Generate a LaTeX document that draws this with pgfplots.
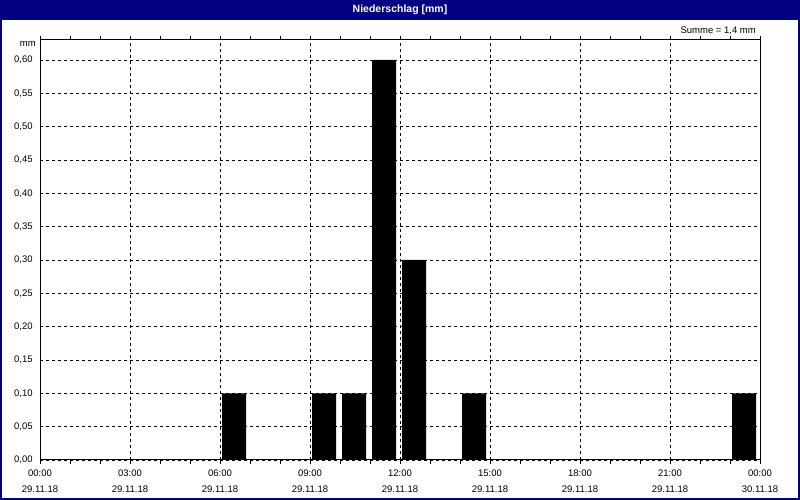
\documentclass[border=0pt]{standalone}
\usepackage{fontspec}
\setmainfont{Liberation Sans}
\usepackage{pgfplots}
\pgfplotsset{compat=1.18}
\definecolor{navy}{HTML}{000080}
\begin{document}
\fontsize{9.5}{16}\selectfont
\begin{tikzpicture}[x=1pt,y=1pt]
% page frame and title bar
\fill[white] (0,0) rectangle (800,500);
\fill[navy] (0,480) rectangle (800,500);
\draw[navy, line width=2pt] (1,1) rectangle (799,499);
\node[text=white, font=\fontsize{10.5}{12}\selectfont\bfseries] at (400,490) {Niederschlag [mm]};
\begin{axis}[
  at={(40pt,40pt)}, anchor=south west,
  scale only axis, width=720pt, height=420pt,
  xmin=0, xmax=24, ymin=0, ymax=0.63,
  xtick={0,3,...,24},
  minor xtick={1,2,4,5,7,8,10,11,13,14,16,17,19,20,22,23},
  xticklabels={00:00\\29.11.18,03:00\\29.11.18,06:00\\29.11.18,09:00\\29.11.18,
               12:00\\29.11.18,15:00\\29.11.18,18:00\\29.11.18,21:00\\29.11.18,
               00:00\\30.11.18},
  ytick={0,0.05,...,0.61},
  yticklabel style={/pgf/number format/.cd, use comma, fixed, fixed zerofill, precision=2, assume math mode=true},
  tick label style={font=\fontsize{9.5}{16}\selectfont, align=center},
  xticklabel style={yshift=-3pt},
  tick align=outside,
  major tick length=4pt, minor tick length=4pt,
  ytick style={draw=none},
  xtick style={black, line width=0.8pt},
  grid=major,
  major grid style={black, line width=0.8pt, dash pattern=on 3pt off 3pt},
  axis line style={black, line width=1pt},
  clip=false,
]
\addplot[ybar, bar width=0.8, fill=black, draw=none] coordinates {
  (6.47,0.1) (9.47,0.1) (10.47,0.1) (11.47,0.6) (12.47,0.3) (14.47,0.1) (23.47,0.1)};
\node[anchor=north east, inner sep=0pt] at ([xshift=-4pt,yshift=-1pt]rel axis cs:0,1) {mm};
\node[anchor=east, inner sep=0pt] at ([xshift=-4pt,yshift=9pt]rel axis cs:1,1) {Summe = 1,4 mm};
\end{axis}
\end{tikzpicture}
\end{document}
